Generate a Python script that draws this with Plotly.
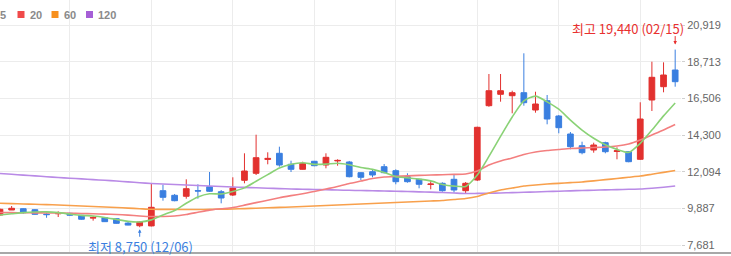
import plotly.graph_objects as go

# ---- data ----
idx = list(range(59))
opens = [9486, 9787, 9865, 9805, 9540, 9560, 9590, 9470, 9300, 9325,
         9265, 9000, 8840, 8830, 10949, 10672, 10612, 10950, 11190, 10888,
         10690, 11574, 11995, 12830, 13199, 12537, 12236, 12718, 12495, 12740,
         12675, 12032, 12092, 12393, 12153, 11791, 11634, 11320, 11394, 11634,
         10949, 11592, 16063, 16749, 16665, 16845, 15804, 16364, 15443, 14360,
         13656, 13398, 13837, 13310, 13295, 12838, 16406, 17207, 18211]
highs = [9870, 10028, 9890, 9830, 9620, 9710, 9630, 9470, 9430, 9340,
         9280, 9060, 9100, 11390, 11310, 10750, 11634, 11334, 12074, 10991,
         11755, 13199, 14318, 13259, 13596, 12753, 12694, 12740, 13199, 12838,
         12740, 12060, 12236, 12555, 12236, 11995, 11660, 11532, 11454, 11953,
         11472, 14800, 17970, 17970, 16965, 19216, 16905, 16707, 15503, 14481,
         13897, 13837, 13897, 13560, 13330, 16268, 18711, 18673, 19440]
lows = [9450, 9787, 9565, 9500, 9320, 9365, 9440, 9200, 9145, 9070,
        8960, 8870, 8750, 8800, 10347, 10311, 10467, 10467, 10870, 10190,
        10630, 11394, 11893, 12537, 12393, 12074, 12216, 12420, 12296, 12453,
        11750, 11592, 11755, 11995, 11334, 11430, 11093, 11033, 10888, 10828,
        10792, 11530, 16000, 16304, 15606, 16063, 15642, 14944, 14403, 13440,
        13139, 13235, 13199, 12838, 12660, 12800, 15744, 16869, 17207]
closes = [9830, 9890, 9624, 9528, 9510, 9590, 9470, 9230, 9330, 9085,
          8985, 8880, 9065, 9950, 10551, 10347, 11069, 10930, 10913, 10509,
          11111, 12134, 12934, 12890, 12495, 12236, 12597, 12453, 12958, 12770,
          11791, 11755, 11893, 12032, 11490, 11490, 11334, 11350, 10949, 10991,
          11394, 14763, 16965, 16965, 16845, 16244, 16165, 15263, 14739, 13596,
          13235, 13698, 13295, 13350, 12694, 15263, 17772, 17910, 17508]

ma5 = [9490, 9560, 9630, 9670, 9676, 9628, 9544, 9466, 9426, 9341,
       9220, 9102, 9069, 9193, 9486, 9759, 10196, 10569, 10762, 10754,
       10906, 11119, 11520, 11916, 12313, 12538, 12630, 12534, 12548, 12603,
       12514, 12345, 12233, 12048, 11792, 11732, 11648, 11539, 11323, 11223,
       11204, 11889, 13012, 14216, 15386, 16356, 16637, 16296, 15851, 15201,
       14600, 14106, 13713, 13435, 13254, 13800, 14600, 15450, 16230]
ma20 = [9637, 9630, 9622, 9615, 9610, 9607, 9595, 9580, 9560, 9540,
        9517, 9480, 9430, 9396, 9400, 9426, 9520, 9650, 9780, 9860,
        9938, 10080, 10230, 10370, 10520, 10650, 10770, 10900, 11050, 11200,
        11380, 11530, 11680, 11770, 11810, 11840, 11870, 11890, 11910, 11930,
        11953, 12134, 12495, 12736, 12916, 13127, 13277, 13368, 13428, 13488,
        13518, 13548, 13578, 13639, 13759, 13999, 14300, 14601, 14932]
ma60 = [10191, 10170, 10150, 10130, 10110, 10088, 10058, 10028, 9998, 9968,
        9938, 9900, 9865, 9829, 9826, 9823, 9820, 9817, 9827, 9837,
        9847, 9871, 9895, 9920, 9944, 9968, 9998, 10028, 10058, 10088,
        10118, 10148, 10178, 10209, 10239, 10269, 10299, 10329, 10359, 10420,
        10480, 10600, 10811, 10991, 11110, 11232, 11292, 11352, 11392, 11432,
        11472, 11542, 11612, 11683, 11758, 11833, 11940, 12050, 12164]
ma120 = [11984, 11935, 11887, 11840, 11790, 11743, 11700, 11660, 11615, 11575,
         11532, 11480, 11430, 11382, 11352, 11322, 11290, 11260, 11230, 11200,
         11171, 11147, 11123, 11099, 11075, 11051, 11035, 11019, 11003, 10988,
         10972, 10958, 10943, 10929, 10914, 10900, 10880, 10860, 10840, 10810,
         10780, 10785, 10792, 10812, 10832, 10852, 10874, 10896, 10918, 10940,
         10960, 10978, 10996, 11014, 11032, 11051, 11100, 11160, 11232]

y_ticks = [7681, 9887, 12094, 14300, 16506, 18713, 20919]
y_ticktext = ["7,681", "9,887", "12,094", "14,300", "16,506", "18,713", "20,919"]
x_grid = [6, 13, 20, 27, 34, 41, 48, 55]

legend_labels = ["5", "20", "60", "120"]
hi_label = "최고 19,440 (02/15)"
lo_label = "최저 8,750 (12/06)"

# ---- styles ----
RED = "#e2312f"
BLUE = "#3a7fe0"
ma_colors = ["#8ad276", "#f37f7f", "#f8a04c", "#b98ae6"]
legend_colors = ["#7ccc63", "#f04a4a", "#f7901e", "#a65fd6"]

fig = go.Figure()
for ser, col in zip([ma120, ma60, ma20, ma5], ma_colors[::-1]):
    fig.add_trace(go.Scatter(x=idx, y=ser, mode="lines",
                             line=dict(color=col, width=1.6, shape="spline", smoothing=0.6),
                             hoverinfo="skip", showlegend=False))

fig.add_trace(go.Candlestick(
    x=idx, open=opens, high=highs, low=lows, close=closes,
    increasing=dict(line=dict(color=RED, width=1), fillcolor=RED),
    decreasing=dict(line=dict(color=BLUE, width=1), fillcolor=BLUE),
    whiskerwidth=0, showlegend=False))

PLOT_W = 681
PLOT_H = 253

# hi / lo annotations
imax = highs.index(max(highs))
imin = lows.index(min(lows))
HI_COL = "#e8302f"
LO_COL = "#3b7fe0"
fig.add_annotation(x=imax, y=highs[imax], text=hi_label, showarrow=False,
                   xanchor="center", yanchor="middle", xshift=-47, yshift=21,
                   font=dict(family="Noto Sans CJK KR", size=13, color=HI_COL))
fig.add_annotation(x=imax, y=highs[imax], text="", showarrow=True,
                   ax=0, ay=-15, standoff=5, arrowhead=2, arrowsize=0.7, arrowwidth=1,
                   arrowcolor=HI_COL)
fig.add_annotation(x=imin, y=lows[imin], text=lo_label, showarrow=False,
                   xanchor="center", yanchor="middle", yshift=-19, xshift=1,
                   font=dict(family="Noto Sans CJK KR", size=13, color=LO_COL))
fig.add_annotation(x=imin, y=lows[imin], text="", showarrow=True,
                   ax=0, ay=11, standoff=2, arrowhead=2, arrowsize=0.7, arrowwidth=1,
                   arrowcolor=LO_COL)

# legend (top-left, partly cut off)
leg_sq_x = [-13, 17.5, 51.5, 86]
leg_tx_x = [-2, 27.5, 61.5, 96]
for lab, col, sx, tx in zip(legend_labels, legend_colors, leg_sq_x, leg_tx_x):
    fig.add_shape(type="rect", xref="paper", yref="paper",
                  x0=sx / PLOT_W, x1=(sx + 7) / PLOT_W,
                  y0=1 - 18 / PLOT_H, y1=1 - 11 / PLOT_H,
                  fillcolor=col, line=dict(width=0))
    fig.add_annotation(xref="paper", yref="paper", x=tx / PLOT_W, y=1 - 14.5 / PLOT_H,
                       text="<b>%s</b>" % lab, showarrow=False, xanchor="left", yanchor="middle",
                       font=dict(family="Liberation Sans", size=11, color="#8a8a8a"))

# bottom border
fig.add_shape(type="line", xref="paper", yref="paper", x0=0, x1=731 / PLOT_W, y0=0, y1=0,
              line=dict(color="#a8a8a8", width=2))

fig.update_layout(
    width=731, height=256, margin=dict(l=0, r=50, t=0, b=3, pad=0),
    paper_bgcolor="white", plot_bgcolor="white",
    xaxis=dict(range=[0, 58.5], tickvals=x_grid, showticklabels=False, showgrid=True,
               gridcolor="#ececec", gridwidth=1, zeroline=False, rangeslider=dict(visible=False),
               showline=False, ticks=""),
    yaxis=dict(side="right", range=[7200, 22423], tickvals=y_ticks, ticktext=y_ticktext,
               showgrid=True, gridcolor="#ececec", gridwidth=1, zeroline=False,
               ticks="outside", ticklen=3, tickcolor="#d0d0d0",
               tickfont=dict(family="Liberation Sans", size=11, color="#666666"),
               showline=False),
    showlegend=False,
)

fig.write_html("out.html")
